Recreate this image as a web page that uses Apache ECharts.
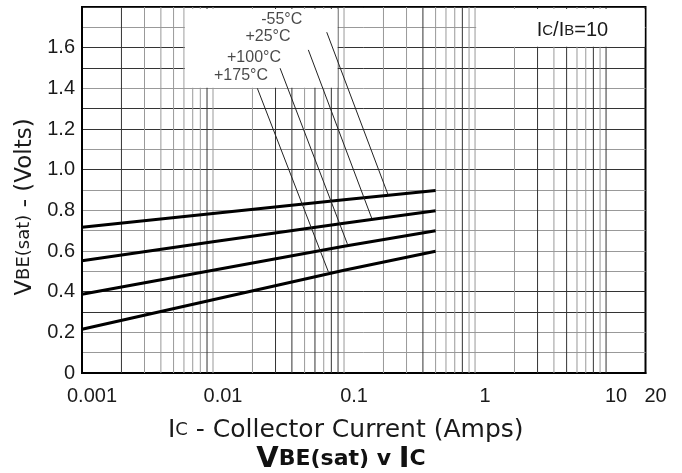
<!DOCTYPE html>
<html>
<head>
<meta charset="utf-8">
<script src="https://cdn.jsdelivr.net/npm/echarts@6/dist/echarts.min.js"></script>
<style>
  html, body { margin: 0; padding: 0; background: #fff; }
  #chart { width: 682px; height: 473px; }
</style>
</head>
<body>
<div id="chart"></div>
<script>
// collector current (A) at which the curves were read
var icAmps = [0.001, 0.01, 0.1, 0.5];
// VBE(sat) for each temperature
var vM55 = [0.717, 0.785, 0.852, 0.897];
var v25 = [0.552, 0.645, 0.737, 0.798];
var v100 = [0.387, 0.505, 0.623, 0.700];
var v175 = [0.215, 0.360, 0.505, 0.599];
var tempNames = ['-55°C', '+25°C', '+100°C', '+175°C'];

// leader lines from the label to the curve
var leaderFrom = [[0.0738, 1.676], [0.0534, 1.589], [0.0325, 1.499], [0.0218, 1.400]];
var leaderTo = [[0.217, 0.876], [0.1627, 0.761], [0.106, 0.635], [0.0759, 0.498]];
var labelAt = [[0.03345, 1.738], [0.02629, 1.653], [0.02056, 1.550], [0.01636, 1.465]];

// paper grid
var gridX = [0.002, 0.003, 0.004, 0.005, 0.006, 0.007, 0.008, 0.009,
             0.01, 0.02, 0.03, 0.04, 0.05, 0.06, 0.07, 0.08, 0.09,
             0.1, 0.2, 0.3, 0.4, 0.5, 0.6, 0.7, 0.8, 0.9,
             1, 2, 3, 4, 5, 6, 7, 8, 9, 10];
var darkX = [0.002, 0.009, 0.03, 0.04, 0.06, 0.08, 0.09, 0.4, 0.8, 3, 5, 8, 10];
// 0 .. 1.8 step 0.1 : d = dark, l = light
var gridYShade = ['d', 'l', 'l', 'd', 'd', 'l', 'l', 'l', 'l', 'l', 'd', 'l', 'd', 'd', 'l', 'd', 'd', 'l', 'd'];

var DARK = '#333', LIGHT = '#999', INK = '#1a1a1a';

var chart = echarts.init(document.getElementById('chart'));

function pairs(ys) {
    var out = [];
    for (var i = 0; i < icAmps.length; i++) out.push([icAmps[i], ys[i]]);
    return out;
}

var series = [];

// vertical lines of the log paper
gridX.forEach(function (v) {
    series.push({
        type: 'line', z: 1, silent: true, showSymbol: false,
        data: [[v, 0], [v, 1.8]],
        lineStyle: { color: darkX.indexOf(v) >= 0 ? DARK : LIGHT, width: 1 }
    });
});

// white label boxes
series.push({
    type: 'line', data: [], z: 3, silent: true,
    markArea: {
        z: 3, silent: true, animation: false,
        itemStyle: { color: '#fff' },
        data: [
            [{ xAxis: 0.0061, yAxis: 1.403 }, { xAxis: 0.0893, yAxis: 1.79 }],
            [{ xAxis: 1.02, yAxis: 1.605, name: 'ratio',
               label: {
                   show: true, position: 'inside', offset: [12, 3],
                   formatter: '{a|I}{b|C}{a|/I}{b|B}{a|=10}',
                   rich: {
                       a: { fontSize: 20, fontFamily: 'Liberation Sans', color: INK, lineHeight: 22 },
                       b: { fontSize: 15, fontFamily: 'Liberation Sans', color: INK, lineHeight: 22 }
                   }
               } },
             { xAxis: 19.7, yAxis: 1.79 }]
        ]
    }
});

[vM55, v25, v100, v175].forEach(function (ys, i) {
    series.push({
        name: tempNames[i], type: 'line', z: 5, data: pairs(ys),
        showSymbol: false, silent: true,
        lineStyle: { color: '#000', width: 3 }
    });
    series.push({
        type: 'line', z: 5, data: [leaderFrom[i], leaderTo[i]],
        showSymbol: false, silent: true,
        lineStyle: { color: '#222', width: 1 }
    });
});

series.push({
    type: 'scatter', z: 6, silent: true,
    symbolSize: 1, itemStyle: { color: 'transparent' },
    data: labelAt.map(function (p, i) { return { value: p, name: tempNames[i] }; }),
    label: {
        show: true, position: 'inside', formatter: '{b}',
        fontSize: 16, fontFamily: 'Liberation Sans', color: INK
    }
});

var option = {
    animation: false,
    backgroundColor: '#fff',
    title: {
        left: 'center', top: 443, padding: [0, 10, 0, 0],
        text: '{a|V}{b|BE(sat) v }{a|I}{b|C}',
        textStyle: {
            rich: {
                a: { fontSize: 29, fontWeight: 'bold', fontFamily: 'DejaVu Sans', color: '#111', lineHeight: 32 },
                b: { fontSize: 22, fontWeight: 'bold', fontFamily: 'DejaVu Sans', color: '#111', lineHeight: 32 }
            }
        }
    },
    grid: {
        left: 82, right: 36.5, top: 7, bottom: 100,
        show: true, borderColor: '#000', borderWidth: 2
    },
    xAxis: {
        type: 'log', logBase: 10, min: 0.001, max: 20,
        name: '{a|I}{b|C}{a| - Collector Current (Amps)}',
        nameLocation: 'middle', nameGap: 43,
        nameTextStyle: {
            padding: [0, 36, 0, 0],
            rich: {
                a: { fontSize: 25, fontFamily: 'DejaVu Sans', color: INK, lineHeight: 28 },
                b: { fontSize: 18, fontFamily: 'DejaVu Sans', color: INK, lineHeight: 28 }
            }
        },
        axisLine: { show: true, lineStyle: { color: '#000', width: 2 } },
        axisTick: { show: false },
        splitLine: { show: false },
        axisLabel: {
            fontSize: 20, fontFamily: 'Liberation Sans', color: INK,
            margin: 13, padding: [0, 0, 0, 20],
            formatter: function (v) { return String(Number(v.toPrecision(3))); }
        }
    },
    yAxis: {
        type: 'value', min: 0, max: 1.8, interval: 0.1,
        name: '{v|V}{s|BE(sat)}{v| - (Volts)}',
        nameLocation: 'middle', nameGap: 42,
        nameTextStyle: {
            padding: [0, 34, 0, 0],
            rich: {
                v: { fontSize: 23, fontFamily: 'DejaVu Sans', color: INK, lineHeight: 26 },
                s: { fontSize: 18, fontFamily: 'DejaVu Sans', color: INK, lineHeight: 26 }
            }
        },
        axisLine: { show: true, lineStyle: { color: '#000', width: 2 } },
        axisTick: { show: false },
        splitLine: {
            show: true,
            lineStyle: { width: 1, color: gridYShade.map(function (s) { return s === 'd' ? DARK : LIGHT; }) }
        },
        axisLabel: {
            fontSize: 20, fontFamily: 'Liberation Sans', color: INK,
            margin: 7, padding: [12, 0, 0, 0],
            formatter: function (v) {
                var k = Math.round(v * 10);
                if (k % 2 || k === 18) return '';
                return k === 0 ? '0' : (k / 10).toFixed(1);
            }
        }
    },
    series: series
};

chart.setOption(option);
</script>
</body>
</html>
